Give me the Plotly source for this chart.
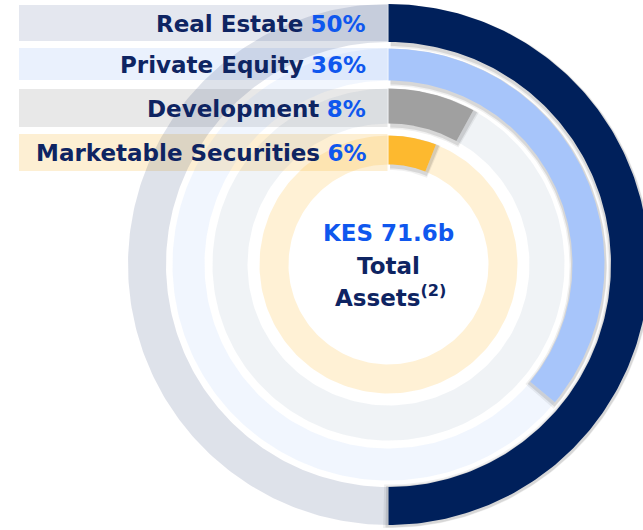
import numpy as np
import plotly.graph_objects as go

# ---------------- data ----------------
categories = ["Real Estate", "Private Equity", "Development", "Marketable Securities"]
shares = [50, 36, 8, 6]                      # percent of total assets
center_value = "KES 71.6b"
center_line1 = "Total"
center_line2 = "Assets<sup>(2)</sup>"

# ---------------- styling / geometry ----------------
bar_colors = ["#00205B", "#A7C5FA", "#A0A0A0", "#FDB92F"]
track_colors = ["rgba(0,32,96,0.13)", "rgba(120,170,250,0.105)",
                "rgba(90,120,150,0.09)", "rgba(253,185,47,0.20)"]
label_bg = ["#E4E7EF", "#EAF1FD", "#E8E8E8", "#FDEFD3"]
ring_outer = [260.5, 216, 176, 129]
ring_inner = [222.5, 184, 141, 100]
label_band = [(259.5, 223.5), (216.5, 184.5), (175.5, 137.5), (130.5, 93.5)]
NAVY = "#0E2462"
BLUE = "#0F57EE"
FONT = "DejaVu Sans"

W, H = 643, 530
CX, CY = 388.5, 264.5


def arc(r_in, r_out, a0, a1, n=200):
    t = np.radians(np.linspace(a0, a1, n))
    xo, yo = r_out * np.sin(t), r_out * np.cos(t)
    xi, yi = r_in * np.sin(t[::-1]), r_in * np.cos(t[::-1])
    x = np.concatenate([xo, xi, xo[:1]])
    y = np.concatenate([yo, yi, yo[:1]])
    return x, y


fig = go.Figure()

# background tracks (remainder of each ring)
for i, s in enumerate(shares):
    x, y = arc(ring_inner[i], ring_outer[i], s * 3.6, 360)
    fig.add_trace(go.Scatter(x=x, y=y, fill="toself", fillcolor=track_colors[i],
                             mode="lines", line=dict(width=0), hoverinfo="skip"))

# value bars with a soft shadow
for i, s in enumerate(shares):
    for k, (dr, al) in enumerate([(4, 0.06), (2.5, 0.10)]):
        x, y = arc(ring_inner[i] - dr, ring_outer[i] + dr * 0.4, 0.3, s * 3.6 + dr * 0.35)
        fig.add_trace(go.Scatter(x=x + 1.0, y=y - 1.5, fill="toself",
                                 fillcolor=f"rgba(0,0,0,{al})", mode="lines",
                                 line=dict(width=0), hoverinfo="skip"))
    x, y = arc(ring_inner[i], ring_outer[i], 0, s * 3.6)
    fig.add_trace(go.Scatter(x=x, y=y, fill="toself", fillcolor=bar_colors[i],
                             mode="lines", line=dict(width=0),
                             name=categories[i], hoverinfo="name"))

shapes = []
annotations = []
for i, cat in enumerate(categories):
    top, bot = label_band[i]
    shapes.append(dict(type="rect", xref="x", yref="y", x0=19 - CX, x1=-1,
                       y0=bot, y1=top, fillcolor=label_bg[i], line=dict(width=0),
                       layer="below"))
    annotations.append(dict(
        x=368 - CX, y=(top + bot) / 2 - 0.5, xref="x", yref="y",
        xanchor="right", yanchor="middle", showarrow=False,
        text=f"<b>{cat}</b> <b><span style='color:{BLUE}'>{shares[i]}%</span></b>",
        font=dict(family=FONT, size=23, color=NAVY)))

annotations += [
    dict(x=0, y=CY - 233, xref="x", yref="y", showarrow=False,
         text=f"<b>{center_value}</b>", font=dict(family=FONT, size=23, color=BLUE)),
    dict(x=0, y=CY - 266, xref="x", yref="y", showarrow=False,
         text=f"<b>{center_line1}</b>", font=dict(family=FONT, size=23, color=NAVY)),
    dict(x=2, y=CY - 296, xref="x", yref="y", showarrow=False,
         text=f"<b>{center_line2}</b>", font=dict(family=FONT, size=23, color=NAVY)),
]

fig.update_layout(
    width=W, height=H, margin=dict(l=0, r=0, t=0, b=0),
    paper_bgcolor="white", plot_bgcolor="white", showlegend=False,
    xaxis=dict(range=[-CX, W - CX], visible=False, fixedrange=True),
    yaxis=dict(range=[CY - H, CY], visible=False, fixedrange=True),
    shapes=shapes, annotations=annotations,
)

fig.write_html("out.html", config={"displayModeBar": False},
               post_script="document.body.style.margin='0px';"
                           "document.body.style.overflow='hidden';")
